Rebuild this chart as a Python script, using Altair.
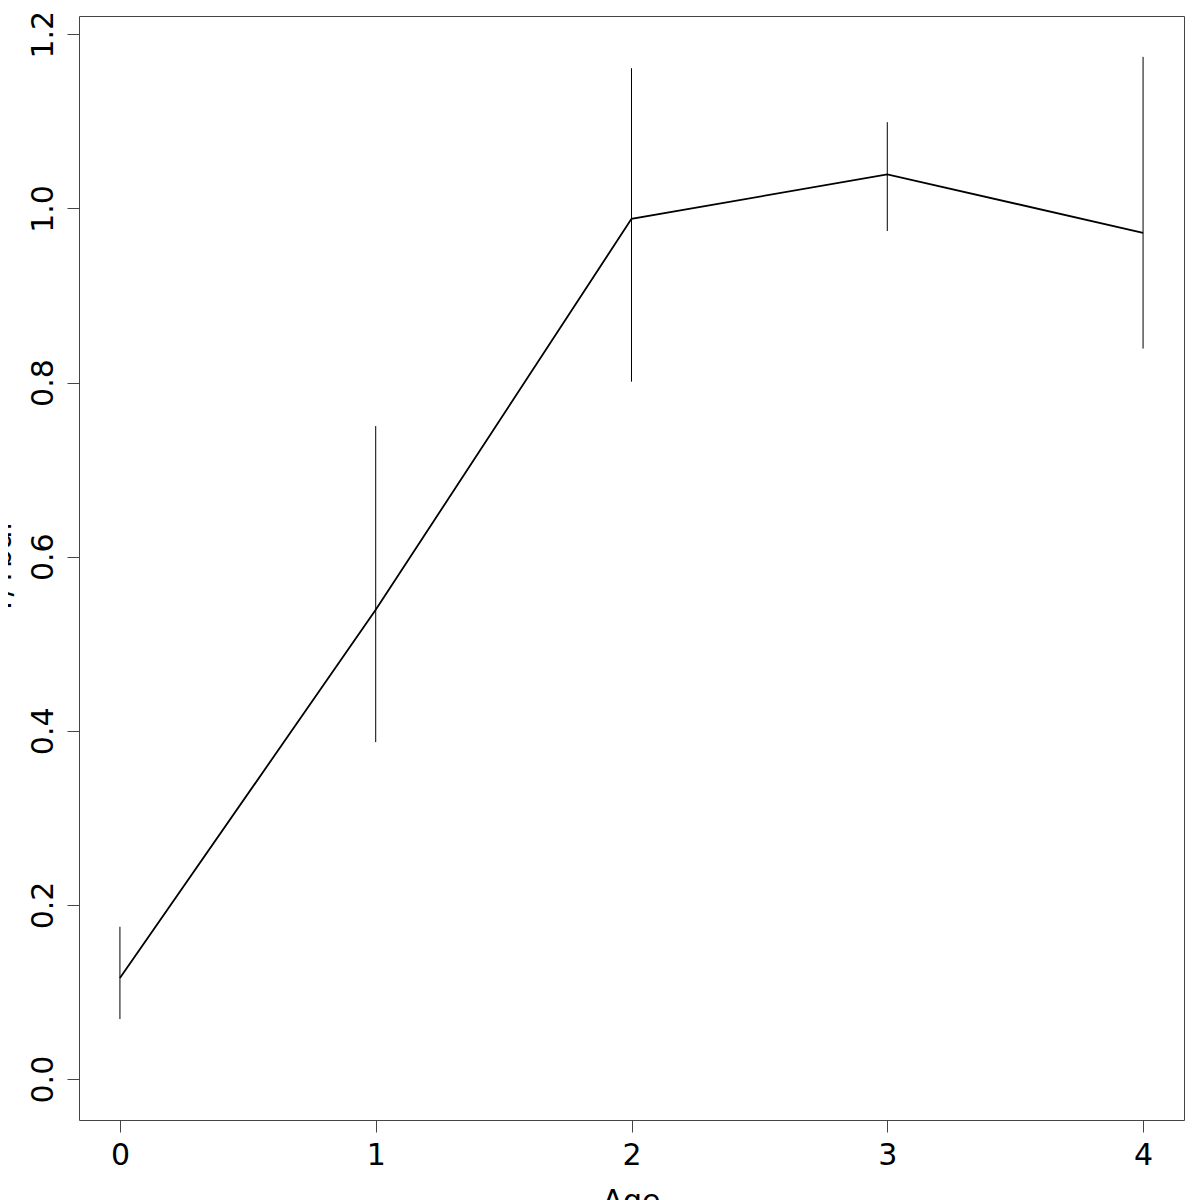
import altair as alt
import pandas as pd

age = [0, 1, 2, 3, 4]
mean_val = [0.116, 0.539, 0.988, 1.039, 0.972]
lower = [0.069, 0.387, 0.801, 0.974, 0.839]
upper = [0.175, 0.750, 1.161, 1.099, 1.174]
x_ticks = [0, 1, 2, 3, 4]
y_ticks = [0.0, 0.2, 0.4, 0.6, 0.8, 1.0, 1.2]

df = pd.DataFrame({"Age": age, "mean": mean_val, "lower": lower, "upper": upper})

# R-style 4% axis expansion
xmin, xmax = min(age), max(age)
xpad = 0.04 * (xmax - xmin)
ymin, ymax = 0.0, max(upper)
ypad = 0.04 * (ymax - ymin)

font = "DejaVu Sans"

xscale = alt.Scale(domain=[xmin - xpad, xmax + xpad], nice=False, zero=False)
yscale = alt.Scale(domain=[ymin - ypad, ymax + ypad], nice=False, zero=False)

xaxis = alt.Axis(
    values=x_ticks, format="d", grid=False, domain=False,
    tickSize=12, tickColor="#444", tickWidth=1,
    labelFontSize=30, labelFont=font, labelColor="black", labelPadding=8,
    labelBaseline="top", labelAlign="center",
    title="Age", titleFontSize=30, titleFont=font, titleFontWeight="normal",
    titleColor="black", titleBaseline="alphabetic", titleY=90, titleX=552,
    titleAlign="center",
)
yaxis = alt.Axis(
    values=y_ticks, format=".1f", grid=False, domain=False,
    tickSize=12, tickColor="#444", tickWidth=1,
    labelFontSize=30, labelFont=font, labelColor="black", labelPadding=15,
    labelAngle=270, labelAlign="center", labelBaseline="alphabetic",
    title="Y/Ybal", titleFontSize=30, titleFont=font, titleFontWeight="normal",
    titleColor="black", titleAngle=270, titleAlign="center",
    titleBaseline="alphabetic", titleX=-69, titleY=552,
)

base = alt.Chart(df)

bars = base.mark_rule(color="black", strokeWidth=1).encode(
    x=alt.X("Age:Q", scale=xscale, axis=xaxis),
    y=alt.Y("lower:Q", scale=yscale, axis=yaxis),
    y2="upper:Q",
)

line = base.mark_line(color="black", strokeWidth=1.8).encode(
    x=alt.X("Age:Q", scale=xscale),
    y=alt.Y("mean:Q", scale=yscale),
)

chart = (
    alt.layer(bars, line)
    .properties(
        width=1105,
        height=1104,
        autosize=alt.AutoSizeParams(type="none"),
        padding={"left": 71, "top": 8, "right": 8, "bottom": 100},
        background="white",
    )
    .configure_view(stroke="#444", strokeWidth=1)
)

chart.save("out.html", embed_options={"renderer": "svg", "actions": False})
